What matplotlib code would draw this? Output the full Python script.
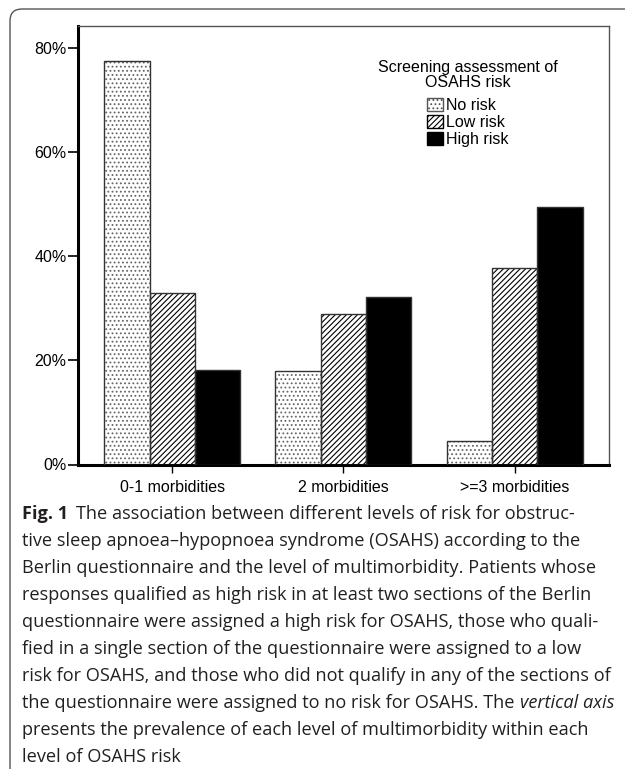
import numpy as np
import matplotlib
matplotlib.use("Agg")
import matplotlib.pyplot as plt
from matplotlib.patches import FancyBboxPatch, Patch
from matplotlib.transforms import IdentityTransform
from matplotlib.ticker import FuncFormatter

# Data (percent)
groups = ["0-1 morbidities", "2 morbidities", ">=3 morbidities"]
risk_levels = ["No risk", "Low risk", "High risk"]
no_risk = [77.4, 18.0, 4.5]
low_risk = [33.0, 28.8, 37.7]
high_risk = [18.1, 32.2, 49.4]
y_ticks = [0, 20, 40, 60, 80]

caption_lines = [
    "The association between different levels of risk for obstruc-",
    "tive sleep apnoea\u2013hypopnoea syndrome (OSAHS) according to the",
    "Berlin questionnaire and the level of multimorbidity. Patients whose",
    "responses qualified as high risk in at least two sections of the Berlin",
    "questionnaire were assigned a high risk for OSAHS, those who quali-",
    "fied in a single section of the questionnaire were assigned to a low",
    "risk for OSAHS, and those who did not qualify in any of the sections of",
    "the questionnaire were assigned to no risk for OSAHS. The ",
    "presents the prevalence of each level of multimorbidity within each",
    "level of OSAHS risk",
]

W, H = 625, 769
FS = 11.5
plt.rcParams["font.family"] = ["Liberation Sans", "DejaVu Sans"]
plt.rcParams["hatch.linewidth"] = 0.8

fig = plt.figure(figsize=(W / 100, H / 100), dpi=100)
ax = fig.add_axes([77.7 / W, 1 - 464.5 / H, (608.7 - 77.7) / W, (464.5 - 25.7) / H])

x = np.arange(len(groups))
bw = 0.265
styles = [
    dict(color="white", hatch="....", hatch_col="#666666"),
    dict(color="white", hatch="//////", hatch_col="black"),
    dict(color="black", hatch=None, hatch_col="black"),
]
series = [no_risk, low_risk, high_risk]
for i, (vals, st) in enumerate(zip(series, styles)):
    pos = x + (i - 1) * bw
    ax.bar(pos, vals, width=bw, color=st["color"], hatch=st["hatch"],
           edgecolor=st["hatch_col"], linewidth=0, zorder=2)
    ax.bar(pos, vals, width=bw, fill=False, edgecolor="#333333",
           linewidth=1.0, zorder=3)

ax.set_xlim(-0.552, 2.55)
ax.set_ylim(0, 84.2)
ax.set_yticks(y_ticks)
ax.yaxis.set_major_formatter(FuncFormatter(lambda v, p: f"{v:.0f}%"))
ax.set_xticks(x)
ax.set_xticklabels(groups)
ax.tick_params(axis="y", direction="out", length=7, width=1.2, labelsize=FS, pad=1)
ax.tick_params(axis="x", direction="out", length=6, width=1, labelsize=FS, pad=5)

for side in ["left", "bottom"]:
    ax.spines[side].set_linewidth(2.2)
    ax.spines[side].set_color("black")
for side in ["top", "right"]:
    ax.spines[side].set_linewidth(1.0)
    ax.spines[side].set_color("#555555")

# legend: title as text, entries as a separate legend
fig.text(468 / W, 1 - 75 / H, "Screening assessment of\nOSAHS risk",
         ha="center", va="center", fontsize=FS, linespacing=1.0)
handles = [
    Patch(facecolor="white", edgecolor="#555555", hatch="...."),
    Patch(facecolor="white", edgecolor="black", hatch="//////"),
    Patch(facecolor="black", edgecolor="black"),
]
fig.legend(handles, risk_levels, loc="upper left",
           bbox_to_anchor=(427 / W, 1 - 98 / H), frameon=False, fontsize=FS,
           handlelength=1.0, handleheight=0.9, labelspacing=0.12,
           handletextpad=0.2, borderpad=0, borderaxespad=0)

# rounded frame around figure and caption
frame = FancyBboxPatch((10, -30), 660, H - 9 + 30,
                       boxstyle="round,pad=0,rounding_size=12",
                       transform=IdentityTransform(), fill=False,
                       edgecolor="#555555", linewidth=1.0)
fig.patches.append(frame)

# caption: size chosen so the longest line spans the same width as in the source
cap_font = ["Open Sans", "DejaVu Sans"]
cap_color = "#231f20"
renderer = fig.canvas.get_renderer()
probe = fig.text(0, 0, caption_lines[6], family=cap_font, fontsize=10)
cap_size = 10 * 590 / probe.get_window_extent(renderer).width
probe.remove()

x0 = 22 / W
y_first = 514
spacing = 27.0
for k, line in enumerate(caption_lines):
    yy = 1 - (y_first + k * spacing) / H
    xx = x0
    if k == 0:
        t = fig.text(xx, yy, "Fig. 1", family=cap_font, fontsize=cap_size,
                     fontweight="bold", va="center", color=cap_color)
        bb = t.get_window_extent(renderer)
        xx = (bb.x1 + 8) / W
    t = fig.text(xx, yy, line, family=cap_font, fontsize=cap_size, va="center",
                 color=cap_color)
    if k == 7:
        bb = t.get_window_extent(renderer)
        fig.text((bb.x1 + 1) / W, yy, "vertical axis", family=cap_font,
                 fontsize=cap_size, style="italic", va="center", color=cap_color)

fig.savefig("out.png", dpi=100)
